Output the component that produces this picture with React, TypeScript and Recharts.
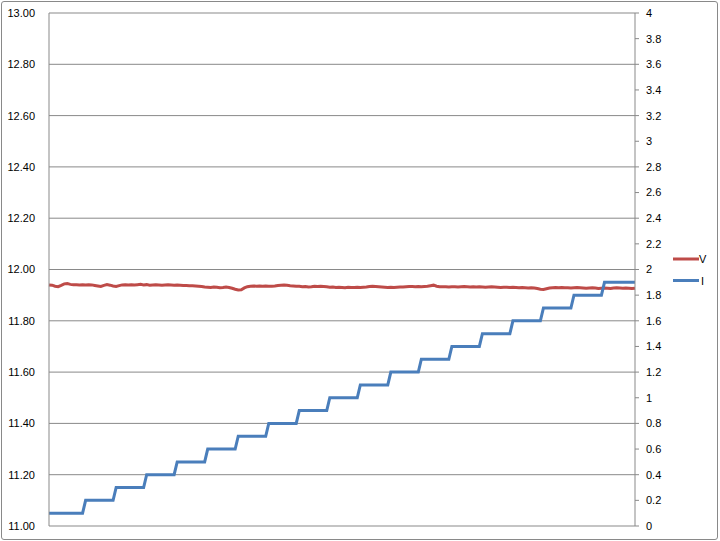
import React from 'react';
import { LineChart, Line, XAxis, YAxis, CartesianGrid } from 'recharts';

// Voltage samples (left axis)
const voltage: number[] = [
  11.940, 11.939, 11.935, 11.933, 11.938, 11.944, 11.945, 11.942, 11.941, 11.941,
  11.940, 11.941, 11.940, 11.941, 11.940, 11.938, 11.936, 11.934, 11.938, 11.941,
  11.939, 11.936, 11.934, 11.937, 11.940, 11.941, 11.940, 11.941, 11.940, 11.941,
  11.942, 11.940, 11.941, 11.939, 11.940, 11.941, 11.940, 11.939, 11.940, 11.941,
  11.940, 11.939, 11.940, 11.939, 11.938, 11.938, 11.937, 11.937, 11.936, 11.935,
  11.934, 11.932, 11.931, 11.930, 11.932, 11.931, 11.929, 11.930, 11.932, 11.930,
  11.927, 11.923, 11.920, 11.921, 11.928, 11.933, 11.935, 11.936, 11.935, 11.936,
  11.935, 11.936, 11.935, 11.935, 11.936, 11.938, 11.939, 11.940, 11.939, 11.937,
  11.936, 11.935, 11.935, 11.933, 11.934, 11.932, 11.933, 11.935, 11.934, 11.935,
  11.934, 11.933, 11.931, 11.932, 11.930, 11.931, 11.930, 11.929, 11.931, 11.930,
  11.930, 11.931, 11.930, 11.931, 11.932, 11.934, 11.935, 11.934, 11.933, 11.932,
  11.931, 11.930, 11.931, 11.930, 11.931, 11.932, 11.932, 11.933, 11.934, 11.934,
  11.933, 11.934, 11.933, 11.934, 11.935, 11.937, 11.939, 11.935, 11.933, 11.933,
  11.933, 11.932, 11.933, 11.933, 11.932, 11.933, 11.934, 11.933, 11.932, 11.933,
  11.932, 11.933, 11.932, 11.931, 11.932, 11.933, 11.932, 11.931, 11.930, 11.931,
  11.931, 11.930, 11.931, 11.930, 11.929, 11.930, 11.929, 11.928, 11.929, 11.928,
  11.926, 11.923, 11.922, 11.925, 11.928, 11.929, 11.930, 11.929, 11.930, 11.929,
  11.929, 11.928, 11.929, 11.930, 11.929, 11.928, 11.927, 11.928, 11.929, 11.928,
  11.926, 11.927, 11.928, 11.927, 11.926, 11.928, 11.929, 11.928, 11.927, 11.928,
  11.927, 11.926, 11.927,
];

// Current samples (right axis)
const current: number[] = [
  0.1, 0.1, 0.1, 0.1, 0.1, 0.1, 0.1, 0.1, 0.1, 0.1, 0.1, 0.1,
  0.2, 0.2, 0.2, 0.2, 0.2, 0.2, 0.2, 0.2, 0.2, 0.2,
  0.3, 0.3, 0.3, 0.3, 0.3, 0.3, 0.3, 0.3, 0.3, 0.3,
  0.4, 0.4, 0.4, 0.4, 0.4, 0.4, 0.4, 0.4, 0.4, 0.4,
  0.5, 0.5, 0.5, 0.5, 0.5, 0.5, 0.5, 0.5, 0.5, 0.5,
  0.6, 0.6, 0.6, 0.6, 0.6, 0.6, 0.6, 0.6, 0.6, 0.6,
  0.7, 0.7, 0.7, 0.7, 0.7, 0.7, 0.7, 0.7, 0.7, 0.7,
  0.8, 0.8, 0.8, 0.8, 0.8, 0.8, 0.8, 0.8, 0.8, 0.8,
  0.9, 0.9, 0.9, 0.9, 0.9, 0.9, 0.9, 0.9, 0.9, 0.9,
  1.0, 1.0, 1.0, 1.0, 1.0, 1.0, 1.0, 1.0, 1.0, 1.0,
  1.1, 1.1, 1.1, 1.1, 1.1, 1.1, 1.1, 1.1, 1.1, 1.1,
  1.2, 1.2, 1.2, 1.2, 1.2, 1.2, 1.2, 1.2, 1.2, 1.2,
  1.3, 1.3, 1.3, 1.3, 1.3, 1.3, 1.3, 1.3, 1.3, 1.3,
  1.4, 1.4, 1.4, 1.4, 1.4, 1.4, 1.4, 1.4, 1.4, 1.4,
  1.5, 1.5, 1.5, 1.5, 1.5, 1.5, 1.5, 1.5, 1.5, 1.5,
  1.6, 1.6, 1.6, 1.6, 1.6, 1.6, 1.6, 1.6, 1.6, 1.6,
  1.7, 1.7, 1.7, 1.7, 1.7, 1.7, 1.7, 1.7, 1.7, 1.7,
  1.8, 1.8, 1.8, 1.8, 1.8, 1.8, 1.8, 1.8, 1.8, 1.8,
  1.9, 1.9, 1.9, 1.9, 1.9, 1.9, 1.9, 1.9, 1.9, 1.9, 1.9,
];

const leftTicks: number[] = [11, 11.2, 11.4, 11.6, 11.8, 12, 12.2, 12.4, 12.6, 12.8, 13];
const rightTicks: number[] = [0, 0.2, 0.4, 0.6, 0.8, 1, 1.2, 1.4, 1.6, 1.8, 2, 2.2, 2.4, 2.6, 2.8, 3, 3.2, 3.4, 3.6, 3.8, 4];
const seriesNames = ['V', 'I'];

const data = voltage.map((v, i) => ({ t: i, V: v, I: current[i] }));

// minor tick values: 4 between each pair of major ticks
const minorTicks: number[] = [];
for (let k = 0; k < leftTicks.length - 1; k++) {
  const a = leftTicks[k];
  const b = leftTicks[k + 1];
  for (let j = 1; j < 5; j++) minorTicks.push(Math.round((a + ((b - a) * j) / 5) * 1000) / 1000);
}

const GRAY = '#898989';
const RED = '#BE4B48';
const BLUE = '#4A7EBB';
const FONT = '"Liberation Sans", Arial, sans-serif';

export default function App() {
  return (
    <div style={{ position: 'absolute', left: 0, top: 0, width: 720, height: 541, background: '#fff' }}>
      <div
        style={{
          position: 'absolute',
          left: 1,
          top: 1,
          width: 717,
          height: 539,
          boxSizing: 'border-box',
          border: `1px solid ${GRAY}`,
          borderRadius: 3,
        }}
      />
      <div style={{ position: 'absolute', left: 0, top: 0 }}>
        <LineChart width={720} height={541} data={data} margin={{ top: 13, right: 0, bottom: 15, left: 0 }}>
          <CartesianGrid yAxisId="left" vertical={false} stroke={GRAY} strokeWidth={1} />
          <XAxis
            dataKey="t"
            type="number"
            domain={[0, voltage.length - 1]}
            tick={false}
            tickLine={false}
            height={0}
            axisLine={{ stroke: GRAY }}
          />
          <YAxis
            yAxisId="minor"
            orientation="left"
            domain={[11, 13]}
            ticks={minorTicks}
            interval={0}
            width={0}
            mirror
            tickSize={4}
            tick={false}
            tickLine={{ stroke: GRAY }}
            axisLine={false}
          />
          <YAxis
            yAxisId="left"
            orientation="left"
            domain={[11, 13]}
            ticks={leftTicks}
            interval={0}
            width={49}
            tickSize={0}
            tickMargin={14}
            tickLine={false}
            axisLine={{ stroke: GRAY }}
            tick={{ fontSize: 11, fill: '#000', fontFamily: FONT }}
            tickFormatter={(v: number) => v.toFixed(2)}
          />
          <YAxis
            yAxisId="right"
            orientation="right"
            domain={[0, 4]}
            ticks={rightTicks}
            interval={0}
            width={85}
            tickSize={4}
            tickMargin={7}
            tickLine={{ stroke: GRAY }}
            axisLine={{ stroke: GRAY }}
            tick={{ fontSize: 11, fill: '#000', fontFamily: FONT }}
            tickFormatter={(v: number) => String(Number(v.toFixed(1)))}
          />
          <Line yAxisId="left" dataKey="V" stroke={RED} strokeWidth={3} dot={false} type="linear" isAnimationActive={false} />
          <Line yAxisId="right" dataKey="I" stroke={BLUE} strokeWidth={3} dot={false} type="linear" isAnimationActive={false} />
        </LineChart>
      </div>
      <svg style={{ position: 'absolute', left: 0, top: 0 }} width={720} height={541} pointerEvents="none">
        <line x1={673} x2={699} y1={259} y2={259} stroke={RED} strokeWidth={3} />
        <text x={699} y={263} fontSize={11} fontFamily={FONT} fill="#000">{seriesNames[0]}</text>
        <line x1={673} x2={699} y1={280.5} y2={280.5} stroke={BLUE} strokeWidth={3} />
        <text x={701} y={284.5} fontSize={11} fontFamily={FONT} fill="#000">{seriesNames[1]}</text>
      </svg>
    </div>
  );
}
